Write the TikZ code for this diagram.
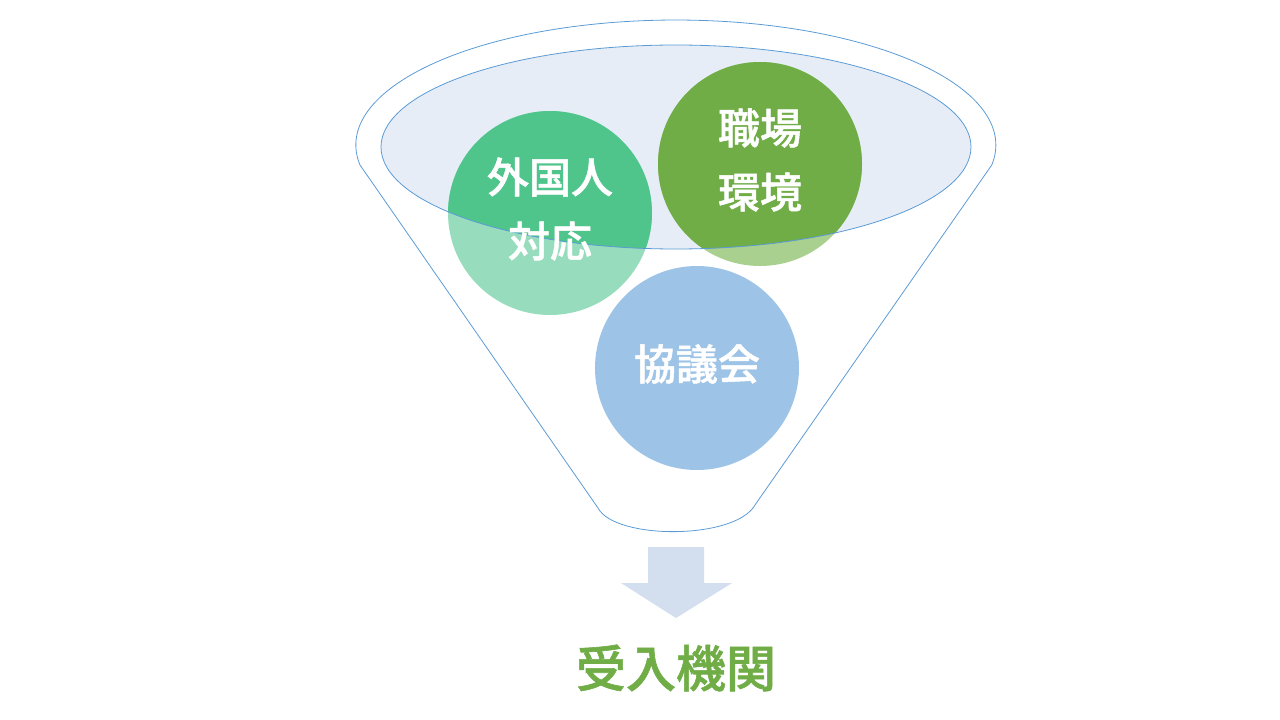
\documentclass[tikz,border=0pt]{standalone}
\usepackage{fontspec}
\newfontfamily\cjk{Noto Sans CJK JP Medium}[FakeBold=1.2]
\usetikzlibrary{shapes.geometric}
\definecolor{rim}{HTML}{5B9BD5}
\definecolor{bowl}{HTML}{E6EDF7}
\definecolor{tealD}{HTML}{4FC58C}
\definecolor{tealL}{HTML}{97DDBD}
\definecolor{grnD}{HTML}{70AD47}
\definecolor{grnL}{HTML}{A9D08E}
\definecolor{blu}{HTML}{9DC3E6}
\definecolor{arr}{HTML}{D3DEEF}
\tikzset{
  rimline/.style={draw=rim, line width=0.8pt},
  bubble/.style={circle, minimum size=204pt, inner sep=0pt},
  lbl/.style={font=\cjk\fontsize{42}{64}\selectfont, text=white, align=center, yshift=4pt},
}
\begin{document}
\begin{tikzpicture}[x=1pt,y=-1pt]
\useasboundingbox (0,0) rectangle (1280,720);
% funnel body
\coordinate (fc) at (676,145);
\draw[rimline] (598,508) -- (360,165)
  arc[start angle=170.8, end angle=369.2, x radius=320, y radius=125]
  -- (755,505) .. controls (735,540) and (615,540) .. (598,508) -- cycle;
% inner ellipse
\node[ellipse, fill=bowl, minimum width=590pt, minimum height=204pt, inner sep=0pt] (bowl) at (676,147) {};
% circles, light tone
\node[bubble, fill=tealL] (c1) at (550,213) {};
\node[bubble, fill=grnL] (c2) at (760,164) {};
\node[bubble, fill=blu] (c3) at (697,368) {};
% darker tone inside the bowl
\begin{scope}
  \clip (676,147) ellipse[x radius=295, y radius=102];
  \fill[tealD] (c1.center) circle[radius=102];
  \fill[grnD] (c2.center) circle[radius=102];
\end{scope}
\draw[rimline] (676,147) ellipse[x radius=295, y radius=102];
% labels
\node[lbl] (t1) at (c1.center) {外国人\\対応};
\node[lbl] (t2) at (c2.center) {職場\\環境};
\node[lbl] (t3) at (c3.center) {協議会};
% block arrow
\fill[arr] (648,547) -- (704,547) -- (704,583) -- (732,583) -- (676,618) -- (621,583) -- (648,583) -- cycle;
% result
\node[font=\cjk\fontsize{50}{60}\selectfont, text=grnD, yshift=2pt] (res) at (676,670) {受入機関};
\end{tikzpicture}
\end{document}
